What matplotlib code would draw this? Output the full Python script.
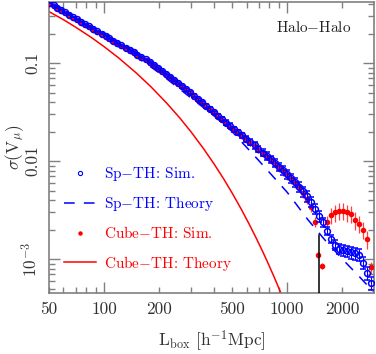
import matplotlib
matplotlib.use('Agg')
import matplotlib.pyplot as plt
from matplotlib.ticker import FixedLocator, FuncFormatter, LogLocator, NullFormatter
from matplotlib.lines import Line2D

plt.rcParams.update({
    'font.family': 'serif',
    'font.serif': ['cmr10'],
    'mathtext.fontset': 'cm',
    'axes.formatter.use_mathtext': True,
    'axes.unicode_minus': False,
})

# ---------------- data ----------------
L_sim = [50, 53, 55, 58, 61, 64, 68, 71, 75, 79, 83, 87, 92, 97, 102, 107, 112, 118, 124, 131,
         138, 145, 152, 160, 169, 177, 187, 196, 207, 217, 229, 241, 253, 266, 280, 295, 310, 326,
         343, 361, 380, 399, 420, 442, 465, 489, 514, 541, 570, 599, 630, 663, 697, 734, 772, 812,
         854, 899, 945, 995, 1046, 1101, 1158, 1218, 1281, 1348, 1418, 1492, 1569, 1651, 1737,
         1827, 1922, 2022, 2127, 2238, 2354, 2477, 2605, 2741, 2883]
sp_sim = [0.412, 0.390, 0.369, 0.349, 0.330, 0.312, 0.295, 0.279, 0.264, 0.250,
          0.237, 0.224, 0.212, 0.200, 0.189, 0.179, 0.169, 0.160, 0.152, 0.144,
          0.136, 0.129, 0.122, 0.115, 0.109, 0.103, 0.0960, 0.0893, 0.0832, 0.0774,
          0.0720, 0.0670, 0.0624, 0.0580, 0.0540, 0.0501, 0.0463, 0.0428, 0.0396, 0.0366,
          0.0338, 0.0313, 0.0289, 0.0267, 0.0247, 0.0229, 0.0212, 0.0197, 0.0183, 0.0169,
          0.0157, 0.0145, 0.0133, 0.0122, 0.0113, 0.0104, 0.00953, 0.00877, 0.00802, 0.00731,
          0.00667, 0.00608, 0.00549, 0.00490, 0.00438, 0.00385, 0.00324, 0.00274, 0.00236, 0.00195,
          0.00161, 0.00140, 0.00127, 0.00124, 0.00120, 0.00117, 0.00114, 0.00110, 0.00091, 0.00072,
          0.00057]
sp_err = [0.01, 0.01, 0.01, 0.01, 0.01, 0.01, 0.01, 0.01, 0.01, 0.01,
          0.012, 0.012, 0.012, 0.012, 0.012, 0.015, 0.015, 0.015, 0.015, 0.015,
          0.018, 0.018, 0.02, 0.02, 0.02, 0.022, 0.022, 0.024, 0.024, 0.026,
          0.026, 0.028, 0.03, 0.03, 0.032, 0.034, 0.036, 0.038, 0.04, 0.042,
          0.044, 0.046, 0.048, 0.05, 0.053, 0.056, 0.06, 0.063, 0.066, 0.07,
          0.073, 0.076, 0.08, 0.083, 0.086, 0.09, 0.093, 0.096, 0.1, 0.1,
          0.105, 0.11, 0.11, 0.115, 0.12, 0.12, 0.12, 0.12, 0.11, 0.1,
          0.1, 0.11, 0.12, 0.13, 0.13, 0.14, 0.14, 0.14, 0.14, 0.15, 0.15]

L_cube_sim = [50, 53, 55, 58, 61, 64, 68, 71, 75, 79, 83, 87, 92, 97, 102, 107, 112, 118, 124, 131,
              138, 145, 152, 160, 169, 177, 187, 196, 207, 217, 229, 241, 253, 266, 280, 295, 310, 326,
              343, 361, 380, 399, 420, 442, 465, 489, 514, 541, 570, 599, 630, 663, 697, 734, 772, 812,
              854, 899, 945, 995, 1046, 1101, 1158, 1218, 1281, 1348, 1418, 1475, 1545, 1651, 1737,
              1827, 1922, 2022, 2127, 2238, 2354, 2477, 2605, 2741, 2883]
cube_sim = [0.404, 0.382, 0.362, 0.342, 0.323, 0.306, 0.289, 0.273, 0.259, 0.245,
            0.232, 0.220, 0.208, 0.196, 0.185, 0.175, 0.166, 0.157, 0.149, 0.141,
            0.133, 0.126, 0.120, 0.113, 0.107, 0.101, 0.0941, 0.0875, 0.0815, 0.0759,
            0.0706, 0.0657, 0.0612, 0.0568, 0.0529, 0.0491, 0.0454, 0.0419, 0.0388, 0.0359,
            0.0331, 0.0307, 0.0283, 0.0262, 0.0242, 0.0224, 0.0208, 0.0193, 0.0179, 0.0166,
            0.0154, 0.0142, 0.0130, 0.0120, 0.0111, 0.0102, 0.00934, 0.00859, 0.00786, 0.00716,
            0.00654, 0.00596, 0.00538, 0.00475, 0.00410, 0.0034, 0.0024, 0.0011, 0.00085, 0.0024,
            0.0028, 0.0030, 0.0031, 0.0031, 0.0030, 0.0029, 0.0025, 0.0023, 0.0020, 0.0016,
            0.00082]
cube_err = [0.01, 0.01, 0.01, 0.01, 0.01, 0.01, 0.01, 0.01, 0.01, 0.01,
            0.012, 0.012, 0.012, 0.012, 0.012, 0.015, 0.015, 0.015, 0.015, 0.015,
            0.018, 0.018, 0.02, 0.02, 0.02, 0.022, 0.022, 0.024, 0.024, 0.026,
            0.026, 0.028, 0.03, 0.03, 0.032, 0.034, 0.036, 0.038, 0.04, 0.042,
            0.044, 0.046, 0.048, 0.05, 0.053, 0.056, 0.06, 0.063, 0.066, 0.07,
            0.073, 0.076, 0.08, 0.083, 0.086, 0.09, 0.093, 0.096, 0.1, 0.1,
            0.105, 0.11, 0.11, 0.115, 0.12, 0.12, 0.12, 0.06, 0.06, 0.15,
            0.18, 0.2, 0.2, 0.2, 0.2, 0.2, 0.2, 0.2, 0.2, 0.2, 0.15]

L_sp_th = [50, 70, 100, 150, 200, 300, 400, 500, 700, 1000, 1300, 1600, 2000, 2500, 3000]
sp_th = [0.407, 0.279, 0.186, 0.116, 0.0794, 0.0437, 0.0288, 0.0200, 0.0101, 0.0048,
         0.00251, 0.00158, 0.00100, 0.00065, 0.00045]

L_cube_th = [50, 60, 70, 85, 100, 120, 150, 180, 220, 260, 300, 350, 400, 450, 500,
             560, 620, 680, 740, 800, 860, 920, 960]
cube_th = [0.335, 0.277, 0.232, 0.183, 0.147, 0.113, 0.0791, 0.0574, 0.0389, 0.0273,
           0.0196, 0.0133, 0.00925, 0.00657, 0.00473, 0.00325, 0.00227, 0.00161, 0.00116,
           0.000842, 0.000618, 0.000458, 0.000377]

vline_L = 1500
vline_top = 0.00176

x_labels = {50: '50', 100: '100', 200: '200', 500: '500', 1000: '1000', 2000: '2000'}
y_labels = {0.1: '0.1', 0.01: '0.01', 0.001: r'$10^{-3}$'}

# ---------------- plot ----------------
BLUE = '#0000ff'
RED = '#ff0000'
GRAY = '#808080'

fig = plt.figure(figsize=(3.76, 3.54), dpi=100)
ax = fig.add_axes([49 / 376, 1 - 293 / 354, 325 / 376, 291 / 354])
ax.set_xscale('log')
ax.set_yscale('log')

cube_yerr = [v * e for v, e in zip(cube_sim, cube_err)]
sp_yerr = [v * e for v, e in zip(sp_sim, sp_err)]

ax.errorbar(L_cube_sim, cube_sim, yerr=cube_yerr, fmt='o', color=RED, ms=4.0, mew=0,
            ecolor='#ff4040', elinewidth=0.9, capsize=2.2, capthick=0.9, zorder=3)
ax.errorbar(L_sim, sp_sim, yerr=sp_yerr, fmt='o', color=BLUE, mfc='none', ms=4.2, mew=1.1,
            ecolor=BLUE, elinewidth=0.8, capsize=2.2, capthick=0.8, zorder=4)

ax.plot(L_sp_th, sp_th, color=BLUE, lw=1.1, dashes=(7, 6), zorder=2)
ax.plot(L_cube_th, cube_th, color=RED, lw=1.1, zorder=2)
ax.plot([vline_L, vline_L], [1e-4, vline_top], color='black', lw=1.1, zorder=5)

ax.set_xlim(50, 2980)
ax.set_ylim(4.5e-4, 0.42)

ax.xaxis.set_major_locator(FixedLocator([100, 1000]))
ax.xaxis.set_minor_locator(LogLocator(base=10, subs=[2, 3, 4, 5, 6, 7, 8, 9], numticks=20))
fmt_x = FuncFormatter(lambda v, p: next((s for k, s in x_labels.items() if abs(v - k) < 1e-6 * k), ''))
ax.xaxis.set_major_formatter(fmt_x)
ax.xaxis.set_minor_formatter(fmt_x)

ax.yaxis.set_major_locator(FixedLocator([0.001, 0.01, 0.1]))
ax.yaxis.set_minor_locator(LogLocator(base=10, subs=[2, 3, 4, 5, 6, 7, 8, 9], numticks=20))
ax.yaxis.set_major_formatter(FuncFormatter(lambda v, p: next((s for k, s in y_labels.items() if abs(v - k) < 1e-6 * k), '')))
ax.yaxis.set_minor_formatter(NullFormatter())

for side in ax.spines.values():
    side.set_color(GRAY)
    side.set_linewidth(1.2)
ax.tick_params(which='both', direction='in', top=True, right=True, color=GRAY, width=1.0,
               labelcolor='#333333', labelsize=12.5)
ax.tick_params(which='major', length=8)
ax.tick_params(which='minor', length=4)
ax.tick_params(axis='x', which='both', pad=6)
ax.tick_params(axis='y', which='both', pad=6)
for lab in ax.get_yticklabels():
    lab.set_rotation(90)
    lab.set_va('center')

ax.set_xlabel(r'L$_{\rm box}$ [h$^{-1}$Mpc]', fontsize=12.5, color='#333333', labelpad=8)
ax.set_ylabel(r'$\sigma(\mathrm{V}_\mu)$', fontsize=12.5, color='#333333')
ax.yaxis.set_label_coords(-0.072, 0.50)

ax.text(0.815, 0.912, r'Halo$-$Halo', transform=ax.transAxes, ha='center', va='center',
        fontsize=11, color='#222222')

handles = [
    Line2D([], [], ls='none', marker='o', mfc='none', mec=BLUE, ms=3, mew=0.8),
    Line2D([], [], color=BLUE, lw=1.1, dashes=(7, 6)),
    Line2D([], [], ls='none', marker='o', color=RED, ms=3.2, mew=0),
    Line2D([], [], color=RED, lw=1.1),
]
labels = [r'Sp$-$TH: Sim.', r'Sp$-$TH: Theory', r'Cube$-$TH: Sim.', r'Cube$-$TH: Theory']
leg = ax.legend(handles, labels, loc='upper left', bbox_to_anchor=(0.045, 0.44), frameon=False,
                fontsize=11, handlelength=2.1, handletextpad=0.55, labelspacing=0.8,
                borderpad=0, borderaxespad=0)
for t, c in zip(leg.get_texts(), [BLUE, BLUE, RED, RED]):
    t.set_color(c)

fig.savefig('out.png', dpi=100)
